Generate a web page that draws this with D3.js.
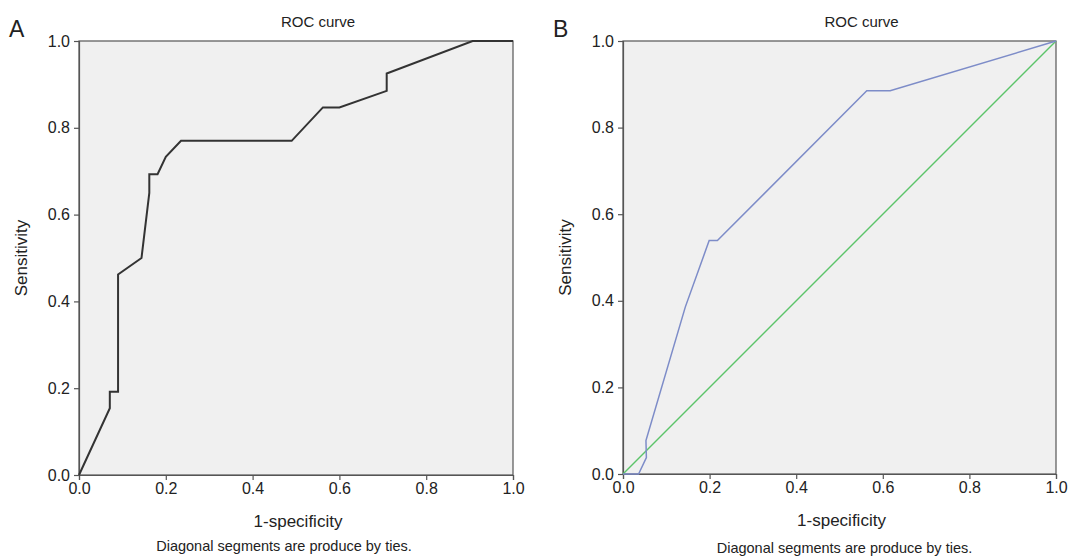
<!DOCTYPE html>
<html lang="en">
<head>
<meta charset="UTF-8">
<title>ROC curves</title>
<script src="https://d3js.org/d3.v7.min.js"></script>
<style>
  body { margin: 0; background: #fff; }
  text { font-family: "Liberation Sans", Arial, sans-serif; fill: #222; }
  .tick text { font-size: 16px; }
  .axis-label { font-size: 17px; }
  .title { font-size: 15px; }
  .panel-letter { font-size: 23px; }
  .note { font-size: 14.5px; }
</style>
</head>
<body>
<svg width="1075" height="556"></svg>
<script>
// panel A curve
var fprA = [0, 0.071, 0.071, 0.09, 0.09, 0.144, 0.162, 0.162, 0.181, 0.2, 0.235, 0.49, 0.562, 0.6, 0.709, 0.709, 0.907, 1];
var tprA = [0, 0.154, 0.192, 0.192, 0.462, 0.5, 0.65, 0.693, 0.693, 0.733, 0.77, 0.77, 0.847, 0.847, 0.885, 0.925, 1, 1];
// panel B curve
var fprB = [0, 0.036, 0.054, 0.053, 0.144, 0.199, 0.218, 0.563, 0.617, 1];
var tprB = [0, 0, 0.038, 0.077, 0.386, 0.539, 0.539, 0.885, 0.885, 1];
var refLine = [0, 1];
var ticks = [0, 0.2, 0.4, 0.6, 0.8, 1.0];

var svg = d3.select('svg');

function panel(opts) {
    var x = d3.scaleLinear().domain([0, 1]).range([opts.left, opts.right]);
    var y = d3.scaleLinear().domain([0, 1]).range([opts.bottom, opts.top]);

    svg.append('rect')
        .attr('x', x(0)).attr('y', y(1))
        .attr('width', x(1) - x(0)).attr('height', y(0) - y(1))
        .attr('fill', '#f0f0f0')
        .attr('stroke', '#555').attr('stroke-width', 1.2);

    var xAxis = svg.append('g')
        .attr('transform', `translate(0,${opts.bottom})`)
        .call(d3.axisBottom(x).tickValues(ticks).tickFormat(d3.format('.1f')).tickSize(5).tickPadding(3));
    var yAxis = svg.append('g')
        .attr('transform', `translate(${opts.left},0)`)
        .call(d3.axisLeft(y).tickValues(ticks).tickFormat(d3.format('.1f')).tickSize(5).tickPadding(4));
    [xAxis, yAxis].forEach(a => {
        a.select('.domain').attr('stroke', '#555').attr('stroke-width', 1.2);
        a.selectAll('.tick line').attr('stroke', '#555').attr('stroke-width', 1.2);
        a.selectAll('.tick text').attr('fill', '#222');
    });

    var line = d3.line().x(d => x(d[0])).y(d => y(d[1]));
    if (opts.ref) {
        svg.append('path')
            .attr('d', line(refLine.map(v => [v, v])))
            .attr('fill', 'none').attr('stroke', '#5cc46a').attr('stroke-width', 1.4);
    }
    svg.append('path')
        .attr('d', line(opts.fpr.map((v, i) => [v, opts.tpr[i]])))
        .attr('fill', 'none').attr('stroke', opts.color).attr('stroke-width', opts.width);

    var cx = (opts.left + opts.right) / 2;
    svg.append('text').attr('class', 'title').attr('x', cx + 22).attr('y', 27)
        .attr('text-anchor', 'middle').text('ROC curve');
    svg.append('text').attr('class', 'panel-letter').attr('x', opts.left - 70).attr('y', 37)
        .text(opts.letter);
    svg.append('text').attr('class', 'axis-label').attr('x', cx + 2).attr('y', opts.bottom + 52)
        .attr('text-anchor', 'middle').text('1-specificity');
    svg.append('text').attr('class', 'axis-label')
        .attr('transform', `translate(${opts.left - 52},${(opts.top + opts.bottom) / 2}) rotate(-90)`)
        .attr('text-anchor', 'middle').text('Sensitivity');
    svg.append('text').attr('class', 'note').attr('x', cx + opts.noteDx).attr('y', opts.bottom + opts.noteDy)
        .attr('text-anchor', 'middle').text('Diagonal segments are produce by ties.');
}

panel({ letter: 'A', left: 79, right: 513, top: 41, bottom: 475, fpr: fprA, tpr: tprA, color: '#333', width: 2, ref: false, noteDx: -12, noteDy: 76 });
panel({ letter: 'B', left: 623, right: 1056, top: 41, bottom: 474, fpr: fprB, tpr: tprB, color: '#7d8cc8', width: 1.5, ref: true, noteDx: 5, noteDy: 79 });
</script>
</body>
</html>
